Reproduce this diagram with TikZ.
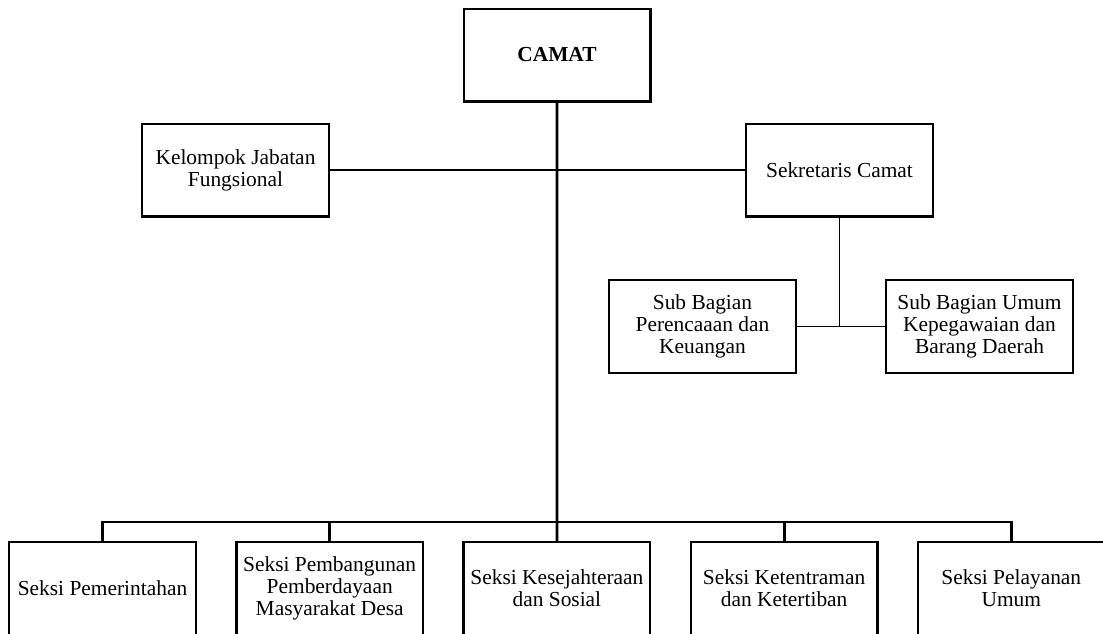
\documentclass[tikz,border=0pt]{standalone}
\usepackage{fontspec}
\setmainfont{Liberation Serif}
\usepackage{tikz}
\usetikzlibrary{positioning}

\begin{document}
\begin{tikzpicture}[
    x=0.5pt, y=-0.5pt,
    node distance=19.1pt,
    font=\fontsize{10.7pt}{10.9pt}\selectfont,
    unit/.style={rectangle, draw=black, line width=1.2pt, minimum width=93.3pt, minimum height=46.3pt, align=center, inner sep=2pt},
    link/.style={line width=1.4pt},
    sublink/.style={line width=0.7pt}
]
    \useasboundingbox (0,0) rectangle (1103,633);

    % top level
    \node[unit] (camat) at (557,55) {\textbf{CAMAT}};
    \node[unit] (kelompok) at (235.5,170) {Kelompok Jabatan\\Fungsional};
    \node[unit] (sekcam) at (839.5,170) {Sekretaris Camat};

    % sub bagian under sekretaris
    \node[unit] (subren) at (702.5,326.5) {Sub Bagian\\Perencaaan dan\\Keuangan};
    \node[unit] (subumum) at (979.5,326.5) {Sub Bagian Umum\\Kepegawaian dan\\Barang Daerah};

    % seksi row
    \node[unit] (pemerintahan) at (102.5,588.5) {Seksi Pemerintahan};
    \node[unit, right=of pemerintahan] (pembangunan) {Seksi Pembangunan\\Pemberdayaan\\Masyarakat Desa};
    \node[unit, right=of pembangunan] (kesejahteraan) {Seksi Kesejahteraan\\dan Sosial};
    \node[unit, right=of kesejahteraan] (ketentraman) {Seksi Ketentraman\\dan Ketertiban};
    \node[unit, right=of ketentraman] (pelayanan) {Seksi Pelayanan\\Umum};

    \coordinate (bus) at (557,522);
    \coordinate (subjoin) at (839.5,326.5);

    \draw[link] (camat.south) -- (kesejahteraan.north);
    \draw[link] (kelompok.east) -- (sekcam.west);
    \draw[link] (bus) -| (pemerintahan.north);
    \draw[link] (bus) -| (pembangunan.north);
    \draw[link] (bus) -| (ketentraman.north);
    \draw[link] (bus) -| (pelayanan.north);

    \draw[sublink] (sekcam.south) -- (subjoin);
    \draw[sublink] (subren.east) -- (subumum.west);
\end{tikzpicture}
\end{document}
